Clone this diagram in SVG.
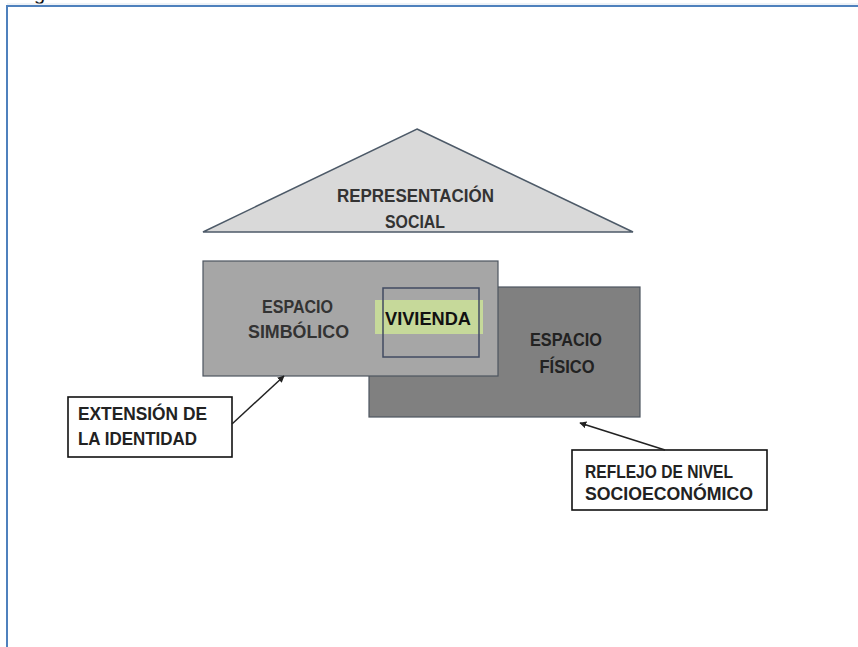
<svg xmlns="http://www.w3.org/2000/svg" width="858" height="647" viewBox="0 0 858 647">
<defs>
<style>
.t{font-family:"Liberation Sans",Arial,sans-serif;font-size:19px;font-weight:bold;fill:#333;}
.c{text-anchor:middle;}
.lbl{fill:#fff;stroke:#111;stroke-width:1.6;}
.conn{stroke:#222;stroke-width:1.5;fill:none;marker-end:url(#ah);}
</style>
<marker id="ah" viewBox="0 0 10 10" refX="9" refY="5" markerWidth="7" markerHeight="7" orient="auto" markerUnits="userSpaceOnUse">
<path d="M0,0 L10,5 L0,10 z" fill="#222"/>
</marker>
</defs>
<rect width="858" height="647" fill="#fff"/>
<g id="frame">
<text x="34" y="0" style="font-family:'Liberation Sans',Arial,sans-serif;font-size:20px;fill:#111">g</text>
<line x1="7" y1="4" x2="858" y2="4" stroke="#dde6f0" stroke-width="1"/>
<line x1="7" y1="6" x2="858" y2="6" stroke="#4f81bd" stroke-width="2"/>
<line x1="7" y1="5" x2="7" y2="647" stroke="#4f81bd" stroke-width="2"/>
</g>
<g id="representacion">
<polygon points="417,129 633,232 203,232" fill="#d9d9d9" stroke="#4d5a68" stroke-width="1.5"/>
<text class="t c" x="415.5" y="202" textLength="157" lengthAdjust="spacingAndGlyphs">REPRESENTACIÓN</text>
<text class="t c" x="415" y="228" textLength="60" lengthAdjust="spacingAndGlyphs">SOCIAL</text>
</g>
<g id="espacio-fisico">
<rect x="369" y="287" width="271" height="130" fill="#808080" stroke="#4d5560" stroke-width="1.2"/>
<text class="t c" x="566" y="346" textLength="72" lengthAdjust="spacingAndGlyphs" style="fill:#222">ESPACIO</text>
<text class="t c" x="567" y="373" textLength="55" lengthAdjust="spacingAndGlyphs" style="fill:#222">FÍSICO</text>
</g>
<g id="espacio-simbolico">
<rect x="203" y="261" width="295" height="115" fill="#a6a6a6" stroke="#4d5560" stroke-width="1.2"/>
<text class="t c" x="297.5" y="313" textLength="71" lengthAdjust="spacingAndGlyphs">ESPACIO</text>
<text class="t c" x="298.5" y="338" textLength="101" lengthAdjust="spacingAndGlyphs">SIMBÓLICO</text>
</g>
<g id="vivienda">
<rect x="375" y="300" width="108" height="34" fill="#c6d99a"/>
<rect x="383" y="288" width="96" height="69" fill="none" stroke="#414b62" stroke-width="1.5"/>
<text class="t c" x="428" y="325" textLength="86" lengthAdjust="spacingAndGlyphs" style="fill:#111">VIVIENDA</text>
</g>
<g id="extension">
<rect class="lbl" x="68" y="397" width="164" height="60"/>
<text class="t" x="78" y="420" textLength="129" lengthAdjust="spacingAndGlyphs" style="fill:#222">EXTENSIÓN DE</text>
<text class="t" x="78" y="445" textLength="119" lengthAdjust="spacingAndGlyphs" style="fill:#222">LA IDENTIDAD</text>
</g>
<g id="reflejo">
<rect class="lbl" x="572" y="450" width="195" height="60"/>
<text class="t" x="585" y="478" textLength="148" lengthAdjust="spacingAndGlyphs" style="fill:#222">REFLEJO DE NIVEL</text>
<text class="t" x="585" y="500" textLength="168" lengthAdjust="spacingAndGlyphs" style="fill:#222">SOCIOECONÓMICO</text>
</g>
<g id="connectors">
<line class="conn" x1="232" y1="424" x2="284" y2="376"/>
<line class="conn" x1="665" y1="450" x2="580" y2="423"/>
</g>
</svg>
